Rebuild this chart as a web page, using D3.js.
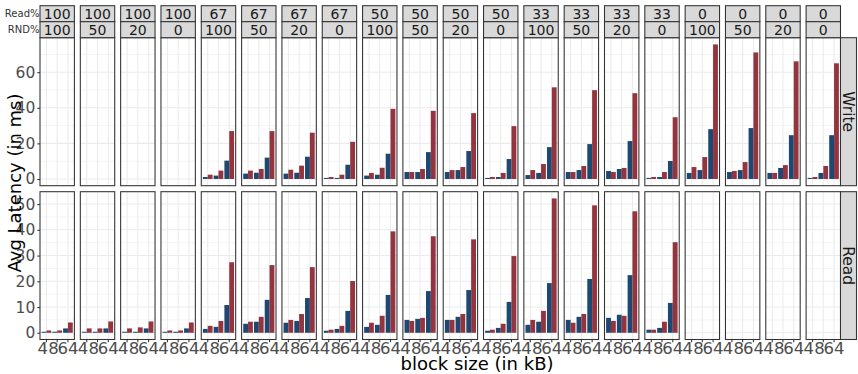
<!DOCTYPE html>
<html>
<head>
<meta charset="utf-8">
<script src="https://cdn.jsdelivr.net/npm/d3@7"></script>
<style>
  body { margin: 0; background: #fff; }
  text { font-family: "DejaVu Sans", sans-serif; }
</style>
</head>
<body>
<svg id="chart" width="858" height="374"></svg>
<script>
// facet columns
const readPct = [100, 100, 100, 100, 67, 67, 67, 67, 50, 50, 50, 50, 33, 33, 33, 33, 0, 0, 0, 0];
const rndPct  = [100, 50, 20, 0, 100, 50, 20, 0, 100, 50, 20, 0, 100, 50, 20, 0, 100, 50, 20, 0];
const blockSizes = ["4", "8", "64"];
const rowNames = ["Write", "Read"];
const writeTicks = [0, 20, 40, 60];
const readTicks = [0, 10, 20, 30, 40, 50];

// avg latency (ms) per column, per block size
const writeBlue = [null, null, null, null,
  [1.1, 1.9, 10.3], [3.0, 3.5, 12.0], [3.0, 3.5, 12.5], [0.6, 0.6, 8.0],
  [1.9, 2.4, 14.2], [3.9, 3.9, 15.1], [3.9, 5.0, 15.7], [0.6, 1.1, 11.2],
  [2.2, 3.4, 17.9], [3.9, 5.0, 19.6], [4.5, 5.6, 21.3], [0.6, 1.1, 10.1],
  [3.4, 5.0, 28.0], [3.9, 5.0, 28.6], [3.4, 6.2, 24.6], [0.6, 3.4, 24.6]];
const writeRed = [null, null, null, null,
  [2.4, 4.7, 26.9], [4.7, 5.6, 26.9], [5.2, 7.5, 26.0], [1.1, 2.4, 20.9],
  [3.4, 6.3, 39.4], [3.9, 5.6, 38.3], [5.0, 6.7, 37.0], [1.1, 3.4, 29.7],
  [5.0, 8.4, 51.5], [3.9, 7.3, 49.9], [3.9, 6.2, 48.2], [1.1, 3.9, 34.7],
  [6.7, 12.3, 75.6], [4.5, 9.5, 71.1], [3.4, 7.8, 66.1], [1.1, 7.3, 65.0]];
const readBlue = [
  [0.4, 0.4, 1.7], [0.4, 0.4, 1.7], [0.4, 0.4, 1.7], [0.4, 0.4, 1.7],
  [1.5, 2.3, 10.8], [3.5, 4.3, 12.8], [3.9, 4.6, 13.5], [0.8, 1.5, 8.5],
  [2.3, 3.1, 14.7], [5.0, 5.4, 16.2], [5.0, 6.2, 16.6], [0.8, 1.9, 12.0],
  [3.1, 4.3, 19.3], [5.0, 6.2, 20.9], [5.8, 7.0, 22.4], [1.2, 1.9, 11.6],
  null, null, null, null];
const readRed = [
  [0.9, 0.9, 4.0], [1.7, 1.7, 4.4], [1.7, 2.1, 4.4], [0.9, 0.9, 4.0],
  [2.7, 4.6, 27.4], [4.3, 6.2, 26.3], [5.0, 7.3, 25.5], [1.2, 2.7, 20.1],
  [3.9, 6.6, 39.4], [4.6, 5.8, 37.5], [5.0, 7.3, 36.3], [1.2, 3.5, 29.8],
  [5.0, 8.5, 52.2], [3.9, 7.3, 49.5], [4.6, 6.6, 47.2], [1.2, 4.3, 35.2],
  null, null, null, null];

const colors = { blue: "#1d4872", red: "#94343f" };
const rows = [
  { name: rowNames[0], blue: writeBlue, red: writeRed, ticks: writeTicks, top: 37.7, bottom: 185.7 },
  { name: rowNames[1], blue: readBlue, red: readRed, ticks: readTicks, top: 191.7, bottom: 339.5 }
];

const svg = d3.select("#chart");
const left = 40, right = 840.5;

// panel columns
const col = d3.scaleBand()
  .domain(d3.range(readPct.length))
  .range([left, right])
  .paddingInner(0.147)
  .paddingOuter(0);
const pw = col.bandwidth();

// discrete x inside a panel (ggplot 0.6 expansion)
const x = d3.scaleBand().domain(blockSizes).range([0, pw]).paddingInner(0).paddingOuter(0.1);
const xs = d3.scaleBand().domain(["blue", "red"]).range([0.05 * x.step(), 0.95 * x.step()]);

rows.forEach((row, ri) => {
  const all = row.blue.concat(row.red).filter(d => d).flat();
  const mx = d3.max(all);
  const y = d3.scaleLinear().domain([-0.05 * mx, 1.05 * mx]).range([row.bottom, row.top]);
  const minor = row.ticks.slice(0, -1).map((t, i) => (t + row.ticks[i + 1]) / 2)
    .concat([row.ticks[row.ticks.length - 1] + (row.ticks[1] - row.ticks[0]) / 2])
    .filter(v => v < y.domain()[1]);

  readPct.forEach((rp, ci) => {
    const g = svg.append("g").attr("transform", "translate(" + col(ci) + ",0)");
    g.append("rect").attr("x", 0).attr("y", row.top).attr("width", pw)
      .attr("height", row.bottom - row.top).attr("fill", "#fff");

    g.selectAll(".minor").data(minor).enter().append("line")
      .attr("x1", 0).attr("x2", pw).attr("y1", d => y(d)).attr("y2", d => y(d))
      .attr("stroke", "#ebebeb").attr("stroke-width", 0.55);
    g.selectAll(".major").data(row.ticks).enter().append("line")
      .attr("x1", 0).attr("x2", pw).attr("y1", d => y(d)).attr("y2", d => y(d))
      .attr("stroke", "#ebebeb").attr("stroke-width", 1.07);
    g.selectAll(".vmajor").data(blockSizes).enter().append("line")
      .attr("x1", d => x(d) + x.bandwidth() / 2).attr("x2", d => x(d) + x.bandwidth() / 2)
      .attr("y1", row.top).attr("y2", row.bottom)
      .attr("stroke", "#ebebeb").attr("stroke-width", 1.07);

    ["blue", "red"].forEach(s => {
      const vals = row[s][ci];
      if (!vals) return;
      g.selectAll(".bar-" + s).data(vals).enter().append("rect")
        .attr("x", (d, i) => x(blockSizes[i]) + xs(s))
        .attr("width", xs.bandwidth())
        .attr("y", d => y(d))
        .attr("height", d => y(0) - y(d))
        .attr("fill", colors[s]);
    });

    g.append("rect").attr("x", 0).attr("y", row.top).attr("width", pw)
      .attr("height", row.bottom - row.top)
      .attr("fill", "none").attr("stroke", "#333").attr("stroke-width", 1.07);

    // y axis on first column
    if (ci === 0) {
      const ax = g.append("g").call(d3.axisLeft(y).tickValues(row.ticks).tickSize(2.7).tickPadding(2));
      ax.select(".domain").remove();
      ax.selectAll("line").attr("stroke", "#333").attr("stroke-width", 1.07);
      ax.selectAll("text").attr("fill", "#4d4d4d").style("font-size", "15.5px");
    }
    // x axis on bottom row
    if (ri === rows.length - 1) {
      const ax = g.append("g").attr("transform", "translate(0," + row.bottom + ")")
        .call(d3.axisBottom(x).tickSize(2.7).tickPadding(0));
      ax.select(".domain").remove();
      ax.selectAll("line").attr("stroke", "#333").attr("stroke-width", 1.07);
      // labels sit packed together like "4864" in the reference
      ax.selectAll("text").attr("fill", "#4d4d4d").style("font-size", "16.5px")
        .attr("dx", d => d.length === 1 ? -3.8 : 0);
    }
  });

  // right strip
  const sg = svg.append("g");
  sg.append("rect").attr("x", right).attr("y", row.top).attr("width", 16)
    .attr("height", row.bottom - row.top)
    .attr("fill", "#d9d9d9").attr("stroke", "#333").attr("stroke-width", 1.07);
  sg.append("text")
    .attr("transform", "translate(" + (right + 8) + "," + ((row.top + row.bottom) / 2) + ")rotate(90)")
    .attr("text-anchor", "middle").attr("dy", "0.35em")
    .attr("fill", "#1a1a1a").style("font-size", "15.5px")
    .text(row.name);
});

// top strips
const strips = [{ vals: readPct, y0: 5.7, label: "Read%" }, { vals: rndPct, y0: 21.7, label: "RND%" }];
strips.forEach(st => {
  st.vals.forEach((v, ci) => {
    svg.append("rect").attr("x", col(ci)).attr("y", st.y0).attr("width", pw).attr("height", 16)
      .attr("fill", "#d9d9d9").attr("stroke", "#333").attr("stroke-width", 1.07);
    svg.append("text").attr("x", col(ci) + pw / 2).attr("y", st.y0 + 8)
      .attr("text-anchor", "middle").attr("dy", "0.36em")
      .attr("fill", "#1a1a1a").style("font-size", "14px")
      .text(v);
  });
  svg.append("text").attr("x", 39.5).attr("y", st.y0 + 8)
    .attr("text-anchor", "end").attr("dy", "0.35em")
    .attr("fill", "#333").style("font-size", "10px")
    .text(st.label);
});

// axis titles
svg.append("text")
  .attr("transform", "translate(15,183)rotate(-90)")
  .attr("text-anchor", "middle").attr("dy", "0.35em")
  .attr("fill", "#000").style("font-size", "18px")
  .text("Avg Latency (in ms)");

svg.append("text")
  .attr("x", 477).attr("y", 369.5)
  .attr("text-anchor", "middle")
  .attr("fill", "#000").style("font-size", "18px")
  .text("block size (in kB)");
</script>
</body>
</html>
